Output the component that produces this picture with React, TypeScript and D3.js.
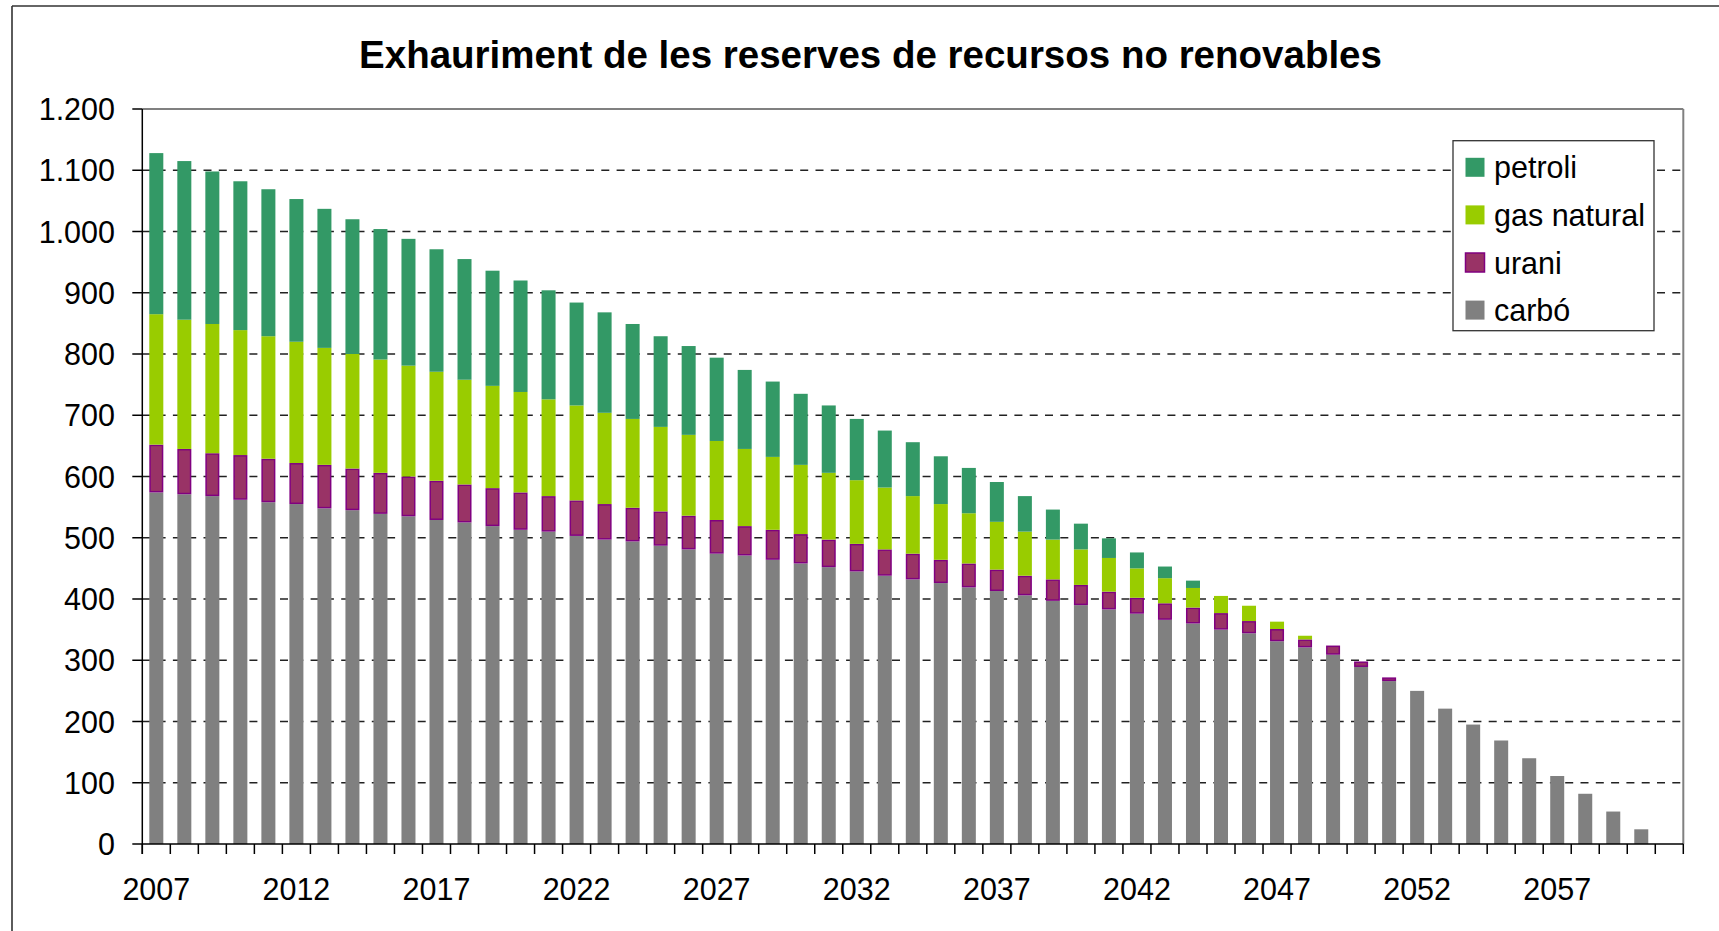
import React from 'react'
import * as d3 from 'd3'

// categories: one band per year, the last one stays empty
const years = d3.range(2007, 2062)

const seriesNames = ['petroli', 'gas natural', 'urani', 'carbó']

const petroli = [
  263, 259, 249, 243, 240, 233, 227, 220, 213, 207,
  200, 197, 188, 182, 178, 168, 164, 155, 148, 145,
  136, 129, 123, 116, 110, 100, 93, 88, 78, 74,
  65, 58, 49, 42, 32, 26, 19, 12,
  0, 0, 0, 0, 0, 0, 0, 0, 0, 0, 0, 0, 0, 0, 0, 0, 0,
]

const gasNatural = [
  213, 211, 211, 204, 200, 198, 191, 187, 185, 181,
  178, 171, 167, 164, 158, 155, 149, 145, 138, 132,
  129, 126, 119, 113, 109, 104, 101, 94, 91, 82,
  78, 72, 65, 58, 55, 48, 41, 32, 28, 25,
  12, 6,
  0, 0, 0, 0, 0, 0, 0, 0, 0, 0, 0, 0, 0,
]

const urani = [
  78, 74, 70, 73, 71, 67, 71, 68, 67, 65,
  64, 62, 62, 61, 58, 58, 58, 55, 56, 55,
  55, 48, 49, 48, 45, 45, 43, 42, 38, 39,
  35, 32, 35, 33, 29, 26, 27, 26, 27, 20,
  20, 13, 15, 9, 6,
  0, 0, 0, 0, 0, 0, 0, 0, 0, 0,
]

const carbo = [
  574, 571, 568, 562, 558, 555, 548, 545, 539, 535,
  529, 525, 519, 513, 510, 503, 497, 494, 487, 481,
  474, 471, 464, 458, 452, 445, 438, 432, 426, 419,
  413, 406, 397, 390, 383, 376, 366, 360, 350, 344,
  331, 321, 309, 289, 266, 250, 221, 195, 169, 140,
  111, 82, 53, 24, 0,
]

const yTicks = [0, 100, 200, 300, 400, 500, 600, 700, 800, 900, 1000, 1100, 1200]
const xLabelYears = [2007, 2012, 2017, 2022, 2027, 2032, 2037, 2042, 2047, 2052, 2057]

const title = 'Exhauriment de les reserves de recursos no renovables'

const W = 1719
const H = 931
const plot = { left: 142.3, right: 1683.3, top: 109, bottom: 844 }
const font = '"Liberation Sans", Arial, sans-serif'

const colors: Record<string, string> = {
  petroli: '#339966',
  'gas natural': '#99CC00',
  urani: '#993366',
  'carbó': '#808080',
}
const strokes: Record<string, string> = {
  urani: '#800080',
}

// tick labels use a dot as thousands separator
const fmt = d3.formatLocale({ decimal: ',', thousands: '.', grouping: [3], currency: ['', '€'] }).format(',d')

export default function App() {
  const table = years.map((year, i) => ({
    year,
    petroli: petroli[i],
    'gas natural': gasNatural[i],
    urani: urani[i],
    'carbó': carbo[i],
  }))

  const stackKeys = ['carbó', 'urani', 'gas natural', 'petroli']
  const stacked = d3.stack<any>().keys(stackKeys)(table)

  const x = d3
    .scaleBand<number>()
    .domain(years)
    .range([plot.left, plot.right])
    .paddingInner(0.5)
    .paddingOuter(0.25)

  const y = d3.scaleLinear().domain([0, 1200]).range([plot.bottom, plot.top])

  const step = x.step()
  const bw = x.bandwidth()
  const bandEdges = d3.range(years.length + 1).map((i) => plot.left + i * step)

  const legendX = 1453
  const legendY = 140.7
  const rowH = 47.6

  return (
    <svg
      width={W}
      height={H}
      style={{ position: 'absolute', left: 0, top: 0, background: '#fff' }}
      fontFamily={font}
    >
      <rect x={0} y={0} width={W} height={H} fill="#fff" />
      {/* chart frame, cut off at the right and bottom */}
      <line x1={12} y1={6} x2={W} y2={6} stroke="#333" strokeWidth={1.6} />
      <line x1={12} y1={6} x2={12} y2={H} stroke="#333" strokeWidth={1.6} />

      <text
        x={870.5}
        y={68}
        textAnchor="middle"
        fontSize={38.5}
        fontWeight="bold"
        fill="#000"
      >
        {title}
      </text>

      {/* grid */}
      {yTicks.filter((t) => t > 0 && t < 1200).map((t) => (
        <line
          key={'g' + t}
          x1={plot.left}
          x2={plot.right}
          y1={y(t)}
          y2={y(t)}
          stroke="#222"
          strokeWidth={1.3}
          strokeDasharray="8,7.3"
        />
      ))}

      {/* bars */}
      {stacked.map((layer) => (
        <g key={layer.key} fill={colors[layer.key]}>
          {layer.map((d, i) => {
            const h = y(d[0]) - y(d[1])
            if (h <= 0) return null
            const st = strokes[layer.key]
            return (
              <rect
                key={i}
                x={(x(years[i]) as number) + (st ? 0.75 : 0)}
                y={y(d[1]) + (st ? 0.75 : 0)}
                width={bw - (st ? 1.5 : 0)}
                height={Math.max(0, h - (st ? 1.5 : 0))}
                stroke={st || 'none'}
                strokeWidth={st ? 1.5 : 0}
              />
            )
          })}
        </g>
      ))}

      {/* plot border: top and right in grey */}
      <line x1={plot.left} x2={plot.right} y1={plot.top} y2={plot.top} stroke="#808080" strokeWidth={2} />
      <line x1={plot.right} x2={plot.right} y1={plot.top} y2={plot.bottom} stroke="#808080" strokeWidth={2} />

      {/* y axis */}
      <line x1={plot.left} x2={plot.left} y1={plot.top} y2={plot.bottom + 10} stroke="#000" strokeWidth={1.5} />
      {yTicks.map((t) => (
        <g key={'y' + t}>
          <line x1={plot.left - 10} x2={plot.left} y1={y(t)} y2={y(t)} stroke="#000" strokeWidth={1.5} />
          <text x={115} y={y(t) + 11} textAnchor="end" fontSize={30.5} fill="#000">
            {fmt(t)}
          </text>
        </g>
      ))}

      {/* x axis */}
      <line x1={plot.left} x2={plot.right} y1={plot.bottom} y2={plot.bottom} stroke="#000" strokeWidth={1.5} />
      {bandEdges.map((e, i) => (
        <line key={'xt' + i} x1={e} x2={e} y1={plot.bottom} y2={plot.bottom + 10} stroke="#000" strokeWidth={1.5} />
      ))}
      {xLabelYears.map((yr) => (
        <text
          key={'xl' + yr}
          x={(x(yr) as number) + bw / 2}
          y={900}
          textAnchor="middle"
          fontSize={30.5}
          fill="#000"
        >
          {yr}
        </text>
      ))}

      {/* legend */}
      <rect x={legendX} y={legendY} width={201} height={190} fill="#fff" stroke="#333" strokeWidth={1.3} />
      {seriesNames.map((name, i) => {
        const cy = legendY + 26.6 + i * rowH
        const st = strokes[name]
        return (
          <g key={'lg' + name}>
            <rect
              x={1465.5}
              y={cy - 9.5}
              width={19}
              height={19}
              fill={colors[name]}
              stroke={st || 'none'}
              strokeWidth={st ? 1.5 : 0}
            />
            <text x={1494} y={cy + 11} fontSize={30.5} fill="#000">
              {name}
            </text>
          </g>
        )
      })}
    </svg>
  )
}
